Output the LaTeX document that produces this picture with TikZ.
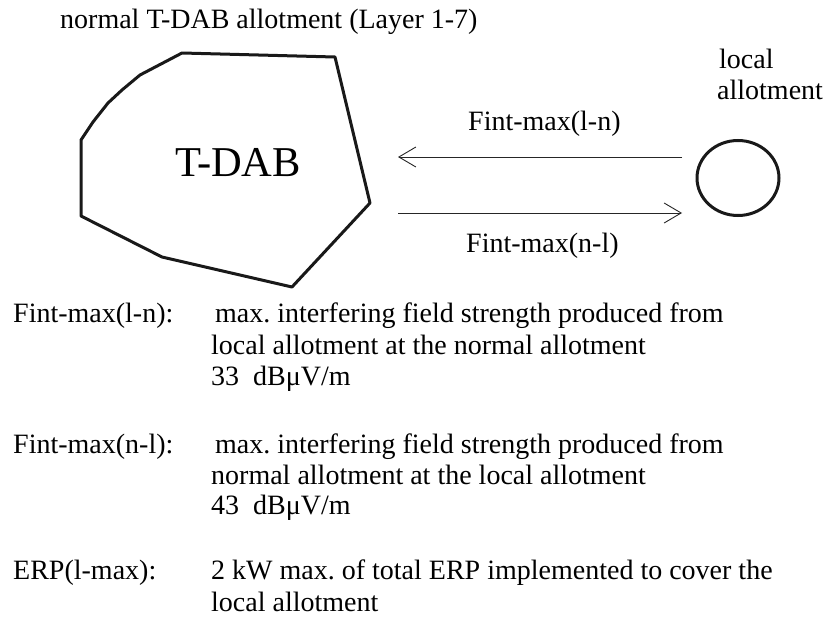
\documentclass[tikz,border=0pt]{standalone}
\usepackage{fontspec}
\setmainfont{Liberation Serif}
\usetikzlibrary{arrows.meta,shapes.geometric}
\frenchspacing
\begin{document}
\begin{tikzpicture}[x=1pt,y=-1pt,
  txt/.style={anchor=base west,inner sep=0pt,font=\fontsize{28}{32}\selectfont},
  arr/.style={line width=0.9pt,draw=black!85,-{Straight Barb[length=17pt,width=20pt,line width=0.9pt]}},
  shapeline/.style={line width=3pt,draw=black!90,line join=round}]
\useasboundingbox[fill=white] (0,0) rectangle (828,621);
% T-DAB allotment polygon
\draw[shapeline] (182,53) -- (335,57) -- (370,203) -- (292,287) -- (162,257)
  -- (81,216) -- (81,140) -- (93,122) -- (108,103) -- (122,90) -- (140,75) -- cycle;
\node[anchor=center,inner sep=0pt,font=\fontsize{42.5}{48}\selectfont] (tdab) at (238,163) {T-DAB};
\node[txt] (title) at (60,28) {normal T-DAB allotment (Layer 1-7)};
% local allotment
\node[draw,ellipse,line width=3pt,draw=black!90,minimum width=82pt,minimum height=75pt,inner sep=0pt] (loc) at (738,178) {};
\node[txt] (loc1) at (719,68) {local};
\node[txt] (loc2) at (717,99) {allotment};
% arrows
\coordinate (a1s) at (682,157);
\coordinate (a1e) at (398,157);
\coordinate (a2s) at (398,213);
\coordinate (a2e) at (682,213);
\draw[arr] (a1s) -- (a1e);
\draw[arr] (a2s) -- (a2e);
\node[txt] (lab1) at (468,130) {Fint-max(l-n)};
\node[txt] (lab2) at (466,252) {Fint-max(n-l)};
% legend
\node[txt] (k1) at (13,322) {Fint-max(l-n):};
\node[txt] (v1a) at (215,322) {max. interfering field strength produced from};
\node[txt] (v1b) at (211,354) {local allotment at the normal allotment};
\node[txt] (v1c) at (211,385) {33\ \ dBμV/m};
\node[txt] (k2) at (13,453) {Fint-max(n-l):};
\node[txt] (v2a) at (215,453) {max. interfering field strength produced from};
\node[txt] (v2b) at (211,484) {normal allotment at the local allotment};
\node[txt] (v2c) at (211,514) {43\ \ dBμV/m};
\node[txt] (k3) at (13,579) {ERP(l-max):};
\node[txt] (v3a) at (211,579) {2 kW max. of total ERP implemented to cover the};
\node[txt] (v3b) at (211,611) {local allotment};
\end{tikzpicture}
\end{document}
